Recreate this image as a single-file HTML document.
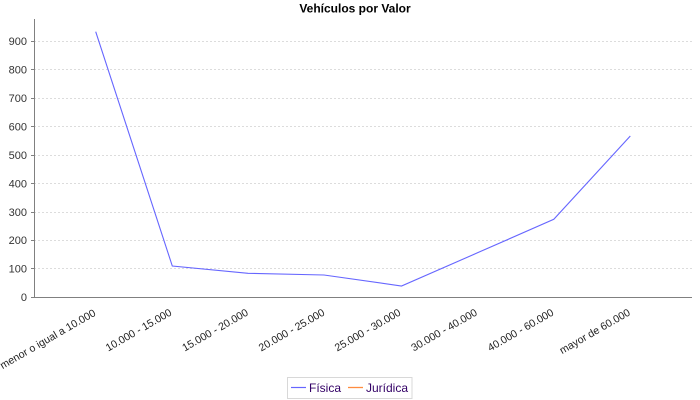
<!DOCTYPE html>
<html><head><meta charset="utf-8"><style>
html,body{margin:0;padding:0;background:#fff;}
svg{display:block;}
text{font-family:"Liberation Sans",Arial,sans-serif;}
</style></head><body>
<svg width="700" height="400" viewBox="0 0 700 400" xmlns="http://www.w3.org/2000/svg">
<rect width="700" height="400" fill="#fff"/>
<text x="355" y="12.5" text-anchor="middle" font-size="12" font-weight="bold" fill="#000">Vehículos por Valor</text>
<g stroke="#dcdcdc" stroke-width="1" stroke-dasharray="2,2">
<line x1="34" y1="268.5" x2="692" y2="268.5"/>
<line x1="34" y1="240.5" x2="692" y2="240.5"/>
<line x1="34" y1="212.5" x2="692" y2="212.5"/>
<line x1="34" y1="183.5" x2="692" y2="183.5"/>
<line x1="34" y1="155.5" x2="692" y2="155.5"/>
<line x1="34" y1="126.5" x2="692" y2="126.5"/>
<line x1="34" y1="98.5" x2="692" y2="98.5"/>
<line x1="34" y1="69.5" x2="692" y2="69.5"/>
<line x1="34" y1="41.5" x2="692" y2="41.5"/>
</g>
<g stroke="#808080" stroke-width="1">
<line x1="34.5" y1="19" x2="34.5" y2="297"/>
<line x1="34" y1="297.5" x2="692" y2="297.5"/>
<line x1="31" y1="297.5" x2="34" y2="297.5"/>
<line x1="31" y1="268.5" x2="34" y2="268.5"/>
<line x1="31" y1="240.5" x2="34" y2="240.5"/>
<line x1="31" y1="212.5" x2="34" y2="212.5"/>
<line x1="31" y1="183.5" x2="34" y2="183.5"/>
<line x1="31" y1="155.5" x2="34" y2="155.5"/>
<line x1="31" y1="126.5" x2="34" y2="126.5"/>
<line x1="31" y1="98.5" x2="34" y2="98.5"/>
<line x1="31" y1="69.5" x2="34" y2="69.5"/>
<line x1="31" y1="41.5" x2="34" y2="41.5"/>
</g>
<g font-size="11" fill="#333" text-anchor="end">
<text x="27" y="301">0</text>
<text x="27" y="272.5">100</text>
<text x="27" y="244">200</text>
<text x="27" y="216">300</text>
<text x="27" y="187.5">400</text>
<text x="27" y="159">500</text>
<text x="27" y="130.5">600</text>
<text x="27" y="102">700</text>
<text x="27" y="73.5">800</text>
<text x="27" y="45">900</text>
</g>
<g font-size="10.6" fill="#222" text-anchor="end">
<text transform="translate(96.5,315) rotate(-30)">menor o igual a 10.000</text>
<text transform="translate(172.5,314.5) rotate(-30)">10.000 - 15.000</text>
<text transform="translate(249,314.5) rotate(-30)">15.000 - 20.000</text>
<text transform="translate(325.5,314.5) rotate(-30)">20.000 - 25.000</text>
<text transform="translate(401.5,314.5) rotate(-30)">25.000 - 30.000</text>
<text transform="translate(478,314.5) rotate(-30)">30.000 - 40.000</text>
<text transform="translate(554.5,314.5) rotate(-30)">40.000 - 60.000</text>
<text transform="translate(631,314.5) rotate(-30)">mayor de 60.000</text>
</g>
<polyline fill="none" stroke="#6666ff" stroke-width="1.1" points="95.7,31.7 172.3,266 248,273.3 324,275 401.5,286 477.5,252.8 553.8,219.3 630.3,136"/>
<rect x="287.5" y="377.5" width="124.5" height="21" fill="#fff" stroke="#d8d8d8" stroke-width="1"/>
<line x1="291" y1="387.5" x2="306" y2="387.5" stroke="#6666ff" stroke-width="1.2"/>
<text x="309" y="392" font-size="12" fill="#330066">Física</text>
<line x1="348" y1="387.5" x2="363" y2="387.5" stroke="#ff8c40" stroke-width="1.3"/>
<text x="366" y="392" font-size="12" fill="#330066">Jurídica</text>
</svg>
</body></html>
